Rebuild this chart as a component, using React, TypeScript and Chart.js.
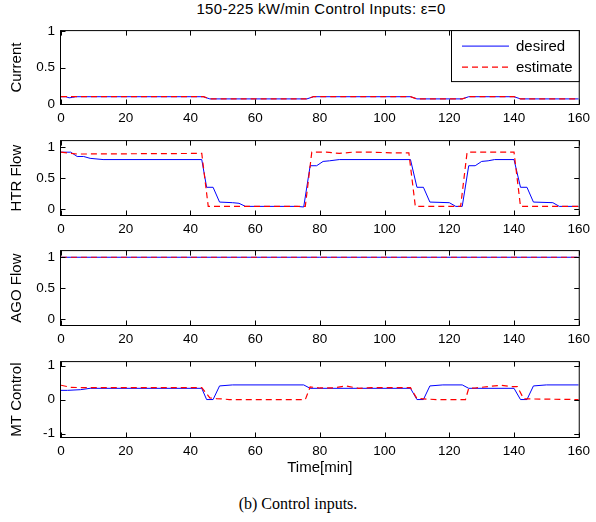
import React, { useEffect, useRef } from "react";
import { Chart, registerables } from "chart.js";

Chart.register(...registerables);

// ---------- data ----------
const xTicks = [0, 20, 40, 60, 80, 100, 120, 140, 160];

const currentDesiredT = [0, 1.5, 2.5, 3.5, 4.5, 44, 46, 76, 78, 108, 110, 124, 126, 140, 142, 160];
const currentDesiredV = [0.1, 0.1, 0.085, 0.09, 0.1, 0.1, 0.07, 0.07, 0.1, 0.1, 0.07, 0.07, 0.1, 0.1, 0.07, 0.07];
const currentEstimateT = [0, 44, 46, 76, 78, 108, 110, 124, 126, 140, 142, 160];
const currentEstimateV = [0.1, 0.1, 0.07, 0.07, 0.1, 0.1, 0.07, 0.07, 0.1, 0.1, 0.07, 0.07];

const htrDesiredT = [0, 3, 5, 7, 9, 13, 43.5, 45, 47, 49, 53, 55, 57, 73, 75, 77, 79, 81, 83, 86, 108, 110, 112, 114, 120, 122, 124, 126, 128, 130, 132, 134, 140, 142, 144, 146, 152, 154, 160];
const htrDesiredV = [0.92, 0.92, 0.85, 0.85, 0.82, 0.8, 0.8, 0.35, 0.35, 0.11, 0.1, 0.09, 0.04, 0.04, 0.03, 0.7, 0.7, 0.77, 0.78, 0.8, 0.8, 0.35, 0.35, 0.11, 0.1, 0.04, 0.04, 0.7, 0.7, 0.77, 0.78, 0.8, 0.8, 0.35, 0.35, 0.11, 0.1, 0.04, 0.04];
const htrEstimateT = [0, 5, 43.5, 45.5, 75.5, 77.5, 82, 86, 90, 96, 102, 107.5, 109.5, 123.5, 125.5, 140, 142, 160];
const htrEstimateV = [0.92, 0.89, 0.9, 0.04, 0.04, 0.92, 0.92, 0.9, 0.92, 0.92, 0.91, 0.91, 0.04, 0.04, 0.92, 0.92, 0.04, 0.04];

const agoDesiredT = [0, 160];
const agoDesiredV = [1, 1];
const agoEstimateT = [0, 160];
const agoEstimateV = [1, 1];

const mtDesiredT = [0, 2, 6, 9, 43.5, 45, 47, 49, 53, 75, 77, 108, 110, 112, 114, 118, 124, 126, 140, 142, 144, 146, 150, 160];
const mtDesiredV = [0.27, 0.27, 0.29, 0.33, 0.33, 0, 0, 0.4, 0.43, 0.43, 0.33, 0.33, 0, 0, 0.4, 0.43, 0.43, 0.33, 0.33, 0, 0, 0.4, 0.43, 0.43];
const mtEstimateT = [0, 3, 6, 43.5, 46, 48, 52, 75.5, 77, 80, 84, 88, 92, 96, 108, 110, 112, 116, 125, 126, 128, 132, 136, 139, 141, 143, 160];
const mtEstimateV = [0.42, 0.36, 0.35, 0.35, 0.05, 0.03, 0, 0, 0.37, 0.34, 0.34, 0.4, 0.33, 0.35, 0.35, 0.03, 0.02, 0, 0, 0.33, 0.34, 0.38, 0.42, 0.38, 0.38, 0.02, 0];

const yTicks01 = [0, 0.5, 1];
const yTicksMT = [-1, 0, 1];

const legendLabels = ["desired", "estimate"];
const titleText = "150-225 kW/min Control Inputs: \u03b5=0";
const captionText = "(b) Control inputs.";
const xTitleText = "Time[min]";

// ---------- styling / layout ----------
const FONT = "'Liberation Sans', Arial, Helvetica, sans-serif";
const BLUE = "#0000ff";
const RED = "#ff0000";
const PAD_TOP = 10;
const TICK_SIZE = 13.5;
const LABEL_SIZE = 15;

const toXY = (t: number[], v: number[]) => t.map((x, i) => ({ x, y: v[i] }));

const matlabAxes = {
  id: "matlabAxes",
  afterDraw(chart: any, _args: any, opts: any) {
    const { ctx, chartArea: a, scales } = chart;
    ctx.save();
    ctx.strokeStyle = "#000";
    ctx.lineWidth = 1;
    ctx.setLineDash([]);
    const L = a.left - 0.5, R = a.right + 0.5, T = a.top - 0.5, B = a.bottom + 0.5;
    const tl = 5;
    ctx.beginPath();
    for (const t of scales.x.ticks) {
      const px = Math.round(scales.x.getPixelForValue(t.value)) + 0.5;
      ctx.moveTo(px, B); ctx.lineTo(px, B - tl);
      ctx.moveTo(px, T); ctx.lineTo(px, T + tl);
    }
    for (const t of scales.y.ticks) {
      const py = Math.round(scales.y.getPixelForValue(t.value)) + 0.5;
      ctx.moveTo(L, py); ctx.lineTo(L + tl, py);
      ctx.moveTo(R, py); ctx.lineTo(R - tl, py);
    }
    ctx.stroke();
    ctx.strokeRect(L, T, R - L, B - T);

    if (opts && opts.legend) {
      const lx = 451.5, ly = T, lw = R - lx, lh = 51;
      ctx.fillStyle = "#fff";
      ctx.fillRect(lx, ly, lw, lh);
      ctx.strokeRect(lx, ly, lw, lh);
      const rows = [
        { y: ly + 15.5, color: BLUE, dash: [] as number[], w: 1, text: legendLabels[0] },
        { y: ly + 36.5, color: RED, dash: [6, 4], w: 1.2, text: legendLabels[1] },
      ];
      ctx.font = `${LABEL_SIZE}px ${FONT}`;
      ctx.textBaseline = "middle";
      ctx.textAlign = "left";
      for (const r of rows) {
        ctx.beginPath();
        ctx.strokeStyle = r.color;
        ctx.lineWidth = r.w;
        ctx.setLineDash(r.dash);
        ctx.moveTo(462, r.y);
        ctx.lineTo(509, r.y);
        ctx.stroke();
        ctx.fillStyle = "#000";
        ctx.fillText(r.text, 516, r.y + 0.5);
      }
    }
    ctx.restore();
  },
};

type PanelCfg = {
  top: number;
  plotH: number;
  canvasH: number;
  yLabel: string;
  yMin: number;
  yMax: number;
  yTicks: number[];
  dT: number[];
  dV: number[];
  eT: number[];
  eV: number[];
  legend?: boolean;
  xTitle?: string;
};

function Panel({ cfg }: { cfg: PanelCfg }) {
  const ref = useRef<HTMLCanvasElement>(null);
  useEffect(() => {
    const xH = cfg.canvasH - PAD_TOP - cfg.plotH;
    const chart = new Chart(ref.current!, {
      type: "line",
      data: {
        datasets: [
          {
            label: legendLabels[1],
            data: toXY(cfg.eT, cfg.eV),
            borderColor: RED,
            borderWidth: 1.2,
            borderDash: [6, 4],
            pointRadius: 0,
            fill: false,
            tension: 0,
          },
          {
            label: legendLabels[0],
            data: toXY(cfg.dT, cfg.dV),
            borderColor: BLUE,
            borderWidth: 1,
            pointRadius: 0,
            fill: false,
            tension: 0,
          },
        ],
      },
      options: {
        responsive: false,
        animation: false,
        events: [],
        layout: { padding: { top: PAD_TOP, right: 15, left: 0, bottom: 0 } },
        plugins: {
          legend: { display: false },
          tooltip: { enabled: false },
          title: { display: false },
          matlabAxes: { legend: !!cfg.legend },
        } as any,
        scales: {
          x: {
            type: "linear",
            min: 0,
            max: 160,
            afterBuildTicks: (s: any) => {
              s.ticks = xTicks.map((v) => ({ value: v }));
            },
            afterFit: (s: any) => {
              s.height = xH;
            },
            grid: { display: false, drawTicks: false },
            border: { display: false },
            ticks: {
              padding: 6,
              color: "#000",
              font: { family: FONT, size: TICK_SIZE },
              maxRotation: 0,
              autoSkip: false,
              callback: (v: any) => String(v),
            },
            title: cfg.xTitle
              ? { display: true, text: cfg.xTitle, color: "#000", font: { family: FONT, size: LABEL_SIZE }, padding: { top: 0, bottom: 1 } }
              : { display: false },
          },
          y: {
            type: "linear",
            min: cfg.yMin,
            max: cfg.yMax,
            afterBuildTicks: (s: any) => {
              s.ticks = cfg.yTicks.map((v) => ({ value: v }));
            },
            afterFit: (s: any) => {
              s.width = 61;
            },
            grid: { display: false, drawTicks: false },
            border: { display: false },
            ticks: {
              padding: 6,
              color: "#000",
              font: { family: FONT, size: TICK_SIZE },
              callback: (v: any) => String(v),
            },
            title: {
              display: true,
              text: cfg.yLabel,
              color: "#000",
              font: { family: FONT, size: LABEL_SIZE },
              padding: { top: 8, bottom: 0 },
            },
          },
        },
      } as any,
      plugins: [matlabAxes as any],
    });
    return () => chart.destroy();
  }, []);
  return (
    <canvas
      ref={ref}
      width={596}
      height={cfg.canvasH}
      style={{ position: "absolute", left: 0, top: cfg.top - PAD_TOP, width: 596, height: cfg.canvasH }}
    />
  );
}

const panels: PanelCfg[] = [
  { top: 27, plotH: 77, canvasH: 110, yLabel: "Current", yMin: 0, yMax: 1, yTicks: yTicks01, dT: currentDesiredT, dV: currentDesiredV, eT: currentEstimateT, eV: currentEstimateV, legend: true },
  { top: 137, plotH: 78, canvasH: 110, yLabel: "HTR Flow", yMin: -0.1, yMax: 1.1, yTicks: yTicks01, dT: htrDesiredT, dV: htrDesiredV, eT: htrEstimateT, eV: htrEstimateV },
  { top: 247, plotH: 78, canvasH: 111, yLabel: "AGO Flow", yMin: -0.1, yMax: 1.1, yTicks: yTicks01, dT: agoDesiredT, dV: agoDesiredV, eT: agoEstimateT, eV: agoEstimateV },
  { top: 358, plotH: 79, canvasH: 130, yLabel: "MT Control", yMin: -1.1, yMax: 1.1, yTicks: yTicksMT, dT: mtDesiredT, dV: mtDesiredV, eT: mtEstimateT, eV: mtEstimateV, xTitle: xTitleText },
];

export default function App() {
  return (
    <div style={{ position: "absolute", left: 0, top: 0, width: 596, height: 522, background: "#fff", overflow: "hidden" }}>
      <div
        style={{
          position: "absolute",
          left: 61,
          top: 0,
          width: 520,
          height: 18,
          lineHeight: "18px",
          textAlign: "center",
          fontFamily: FONT,
          fontSize: LABEL_SIZE,
          letterSpacing: "0.3px",
          color: "#000",
          whiteSpace: "nowrap",
        }}
      >
        {titleText}
      </div>
      {panels.map((p, i) => (
        <Panel key={i} cfg={p} />
      ))}
      <div
        style={{
          position: "absolute",
          left: 0,
          top: 494,
          width: 596,
          height: 20,
          lineHeight: "20px",
          textAlign: "center",
          fontFamily: "'Liberation Serif', 'Times New Roman', serif",
          fontSize: 16,
          color: "#000",
        }}
      >
        {captionText}
      </div>
    </div>
  );
}
